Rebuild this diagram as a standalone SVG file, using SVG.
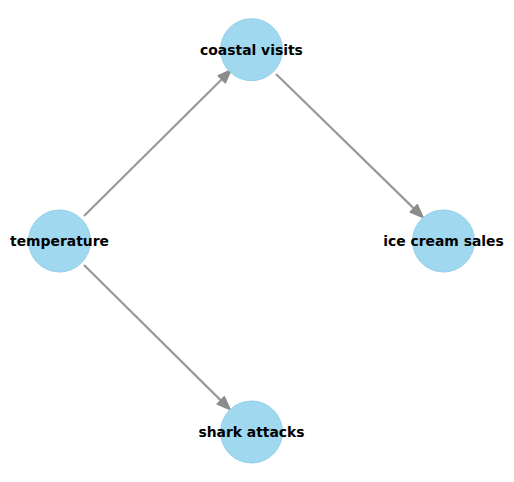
<svg xmlns="http://www.w3.org/2000/svg" width="514" height="482" viewBox="0 0 514 482">
<style>
.node circle{fill:#a0d8ef;stroke:#93d0ec;stroke-width:1}
.node text{font-family:"DejaVu Sans",sans-serif;font-weight:bold;font-size:13.9px;fill:#000;text-anchor:middle;dominant-baseline:central}
.edge{stroke:#999999;stroke-width:2.2;fill:none}
</style>
<defs>
<marker id="ah" markerUnits="userSpaceOnUse" markerWidth="20" markerHeight="16" viewBox="-2 -8 20 16" refX="0" refY="0" orient="auto">
<path d="M0,-5 L13,0 L0,5 z" fill="#8c8c8c" stroke="#8c8c8c" stroke-width="1.6" stroke-linejoin="round"/>
</marker>
</defs>
<g id="connectors">
<line class="edge" x1="84" y1="216" x2="221.8" y2="79.2" marker-end="url(#ah)"/>
<line class="edge" x1="276" y1="74" x2="413.8" y2="208.4" marker-end="url(#ah)"/>
<line class="edge" x1="84" y1="265" x2="220.8" y2="400.4" marker-end="url(#ah)"/>
</g>
<g id="coastal-visits" class="node"><circle cx="251.5" cy="49.7" r="31"/><text x="251.5" y="49.7">coastal visits</text></g>
<g id="temperature" class="node"><circle cx="59.5" cy="241" r="31"/><text x="59.5" y="241">temperature</text></g>
<g id="ice-cream-sales" class="node"><circle cx="443.5" cy="241" r="31"/><text x="443.5" y="241">ice cream sales</text></g>
<g id="shark-attacks" class="node"><circle cx="251.5" cy="432" r="31"/><text x="251.5" y="432">shark attacks</text></g>
</svg>
